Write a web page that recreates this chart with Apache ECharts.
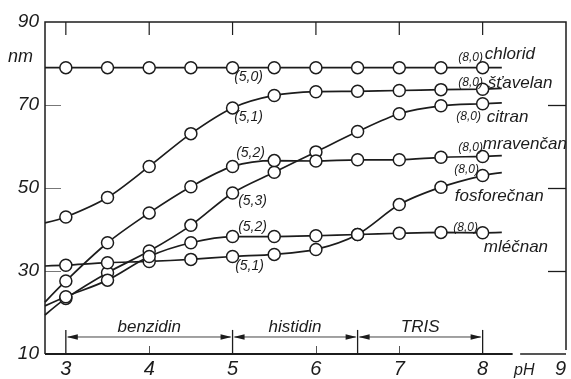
<!DOCTYPE html>
<html><head><meta charset="utf-8">
<script src="https://cdn.jsdelivr.net/npm/echarts@6/dist/echarts.min.js"></script>
<style>html,body{margin:0;padding:0;background:#fff}#c{width:571px;height:379px}</style>
</head><body><div id="c"></div>
<script>
// ---------- DATA ----------
const pH = [3, 3.5, 4, 4.5, 5, 5.5, 6, 6.5, 7, 7.5, 8];
const lineStart = 2.75;   // curves are drawn from the left frame
const lineEnd = 8.23;     // short stub after pH 8
const seriesNames = ['chlorid', 'šťavelan', 'citran', 'mravenčan', 'fosforečnan', 'mléčnan'];
const chlorid     = [79, 79, 79, 79, 79, 79, 79, 79, 79, 79, 79];
const stavelan    = [43, 47.7, 55.2, 63.1, 69.3, 72.3, 73.2, 73.3, 73.5, 73.7, 73.8];
const citran      = [23.4, 29.6, 34.8, 41, 48.8, 53.8, 58.7, 63.6, 67.9, 69.8, 70.3];
const mravencan   = [27.6, 36.8, 44, 50.3, 55.2, 56.6, 56.5, 56.8, 56.8, 57.4, 57.6];
const fosforecnan = [31.4, 32, 32.3, 32.8, 33.5, 34, 35.2, 38.8, 46, 50.2, 53];
const mlecnan     = [23.8, 27.8, 33.5, 36.8, 38.3, 38.3, 38.5, 38.8, 39.1, 39.3, 39.2];
const startValues = [79, 41.6, 19.4, 22.5, 31.2, 21.6];
const endValues   = [79, 74, 70.5, 57.8, 53.7, 39.3];
const midNotes = ['(5,0)', '(5,1)', '(5,3)', '(5,2)', '(5,1)', '(5,2)'];
const endNote = '(8,0)';
const yLabelValues = [10, 30, 50, 70, 81.5, 90];
const yLabelTexts  = ['10', '30', '50', '70', 'nm', '90'];
const xLabelValues = [3, 4, 5, 6, 7, 8, 8.5, 9];
const xLabelTexts  = ['3', '4', '5', '6', '7', '8', 'pH', '9'];
const bufferNames = ['benzidin', 'histidin', 'TRIS'];
const bufferFrom = [3, 5, 6.5];
const bufferTo = [5, 6.5, 8];
const xTopTicks = [3, 4, 5, 6, 7, 8];
const xBottomTicks = [4, 6, 7];
const yFrameTicks = [30, 50, 70];

// ---------- LAYOUT / STYLE ----------
const seriesValues = [chlorid, stavelan, citran, mravencan, fosforecnan, mlecnan];
const INK = '#1c1c1c';
const FONT = '"Liberation Sans", Arial, sans-serif';
const midOffsets = [[16, 9], [16, 9], [20, 8], [18, -13], [17, 10], [20, -9]];
const endNoteOffsets = [[-12, -10], [-12, -7], [-14, 13], [-12, -9], [-16, -6], [-17, -5]];
const nameOffsets = [[-17, -13], [-14, -5], [-15, 14], [-19, -11], [-47, 24], [-18, 15]];
const X_MIN = 2.75, X_MAX = 9, Y_MIN = 10, Y_MAX = 90;
const GRID = { left: 45, right: 5, top: 22, bottom: 24 };
const TOP_TICK_PX = 13;

function noteLabel(text, off, size, align) {
  return { show: true, position: 'inside', offset: off, formatter: text,
    fontFamily: FONT, fontStyle: 'italic', fontSize: size, color: INK,
    align: align || 'center', verticalAlign: 'middle' };
}
const hidden = { color: 'rgba(255,255,255,0)', borderColor: 'rgba(255,255,255,0)' };

const lineSeries = seriesNames.map((name, i) => {
  const vals = seriesValues[i];
  const data = [{ value: [lineStart, startValues[i]], symbolSize: 1, itemStyle: hidden }];
  pH.forEach((x, j) => {
    const item = { value: [x, vals[j]] };
    if (x === 5) item.label = noteLabel(midNotes[i], midOffsets[i], 14);
    if (x === 8) item.label = noteLabel(endNote, endNoteOffsets[i], 12);
    data.push(item);
  });
  data.push({ value: [lineEnd, endValues[i]], symbolSize: 1, itemStyle: hidden,
    label: noteLabel(name, nameOffsets[i], 17, 'left') });
  return {
    type: 'line', name, data, smooth: 0.3,
    symbol: 'circle', symbolSize: 12, showAllSymbol: true,
    lineStyle: { color: INK, width: 1.7 },
    itemStyle: { color: '#fff', borderColor: INK, borderWidth: 1.5 },
    emphasis: { disabled: true }, silent: true, clip: false, z: 3
  };
});

function line(p1, p2, w, col) {
  return { type: 'line', shape: { x1: p1[0], y1: p1[1], x2: p2[0], y2: p2[1] },
    style: { stroke: col || INK, lineWidth: w || 1.5 } };
}
function txt(text, p, size) {
  return { type: 'text', style: { text, x: p[0], y: p[1], fill: INK,
    font: 'italic ' + size + 'px ' + FONT, align: 'center', verticalAlign: 'middle' } };
}

// bottom edge with gap + buffer ranges
const rangeSeries = {
  type: 'custom', coordinateSystem: 'cartesian2d', data: [[X_MIN, Y_MIN]], clip: false, z: 2,
  renderItem: function (params, api) {
    const c = (x, y) => api.coord([x, y]);
    const ch = [];
    const b0 = c(X_MIN, Y_MIN), g1 = c(8.36, Y_MIN), g2 = c(8.45, Y_MIN), b1 = c(X_MAX, Y_MIN);
    ch.push(line([b0[0], b0[1]], [g1[0], g1[1]], 2));
    ch.push(line([g2[0], g2[1]], [b1[0], b1[1]], 1.5));
    const ends = Array.from(new Set(bufferFrom.concat(bufferTo)));
    ends.forEach(x => ch.push(line(c(x, Y_MIN), c(x, 15.8), 1.3)));
    bufferNames.forEach((nm, k) => {
      const a = c(bufferFrom[k], 14.1), b = c(bufferTo[k], 14.1);
      const y = a[1];
      ch.push(line([a[0] + 2, y], [b[0] - 2, y], 1, '#444'));
      ch.push({ type: 'polygon', shape: { points: [[a[0] + 1, y], [a[0] + 12, y - 2.8], [a[0] + 12, y + 2.8]] }, style: { fill: INK } });
      ch.push({ type: 'polygon', shape: { points: [[b[0] - 1, y], [b[0] - 12, y - 2.8], [b[0] - 12, y + 2.8]] }, style: { fill: INK } });
      ch.push(txt(nm, c((bufferFrom[k] + bufferTo[k]) / 2, 16.4), 17));
    });
    return { type: 'group', children: ch };
  }
};

function lookup(values, texts) {
  return v => { const k = values.findIndex(t => Math.abs(t - v) < 1e-6); return k < 0 ? '' : texts[k]; };
}
const xFmt = lookup(xLabelValues, xLabelTexts);
const yFmt = lookup(yLabelValues, yLabelTexts);
const base = { type: 'value', splitLine: { show: false }, axisLine: { show: false } };

const chart = echarts.init(document.getElementById('c'), null, { renderer: 'canvas' });
chart.setOption({
  backgroundColor: '#fff',
  animation: false,
  grid: GRID,
  xAxis: [
    Object.assign({}, base, {
      min: X_MIN, max: X_MAX, interval: 0.25, position: 'bottom',
      axisTick: { show: true, inside: true, length: 8, customValues: xBottomTicks, lineStyle: { color: '#555', width: 1 } },
      axisLabel: {
        customValues: xLabelValues, margin: 5, color: INK, fontFamily: FONT, fontStyle: 'italic', fontSize: 20,
        alignMaxLabel: 'right', hideOverlap: false,
        formatter: v => { const t = xFmt(v); return t === 'pH' ? '{ph|pH}' : t; },
        rich: { ph: { fontSize: 16, fontStyle: 'italic', fontFamily: FONT, color: INK, padding: [4, 0, 0, 0] } }
      }
    })
  ],
  yAxis: [
    Object.assign({}, base, {
      min: Y_MIN, max: Y_MAX, interval: 0.5, position: 'left',
      axisTick: { show: true, inside: true, length: 16, customValues: yFrameTicks, lineStyle: { color: '#777', width: 1 } },
      axisLabel: {
        customValues: yLabelValues, margin: 6, color: INK, fontFamily: FONT, fontStyle: 'italic', fontSize: 19,
        hideOverlap: false,
        formatter: v => { const t = yFmt(v); return t === 'nm' ? '{nm|nm}' : t; },
        rich: { nm: { fontSize: 18, fontStyle: 'italic', fontFamily: FONT, color: INK, padding: [0, 6, 0, 0] } }
      }
    }),
    Object.assign({}, base, {
      min: Y_MIN, max: Y_MAX, interval: 0.5, position: 'right',
      axisTick: { show: true, inside: true, length: 18, customValues: yFrameTicks, lineStyle: { color: INK, width: 1.3 } },
      axisLabel: { show: false }
    })
  ],
  series: [rangeSeries].concat(lineSeries)
});

// frame (left, top, right edges) and top ticks, placed through the axes' own scale
const px = v => chart.convertToPixel({ xAxisIndex: 0, yAxisIndex: 0 }, v);
const tl = px([X_MIN, Y_MAX]), tr = px([X_MAX, Y_MAX]), bl = px([X_MIN, Y_MIN]), br = px([X_MAX, Y_MIN]);
const frameEls = [
  { type: 'polyline', shape: { points: [[bl[0], bl[1]], [tl[0], tl[1]], [tr[0], tr[1]], [br[0], br[1] - 4]] },
    style: { stroke: INK, lineWidth: 1.5, fill: null }, z: 100, silent: true }
];
xTopTicks.forEach(x => {
  const p = px([x, Y_MAX]);
  frameEls.push({ type: 'line', shape: { x1: p[0], y1: p[1], x2: p[0], y2: p[1] + TOP_TICK_PX },
    style: { stroke: INK, lineWidth: 1.2 }, z: 100, silent: true });
});
chart.setOption({ graphic: { elements: frameEls } });
</script>
</body></html>
